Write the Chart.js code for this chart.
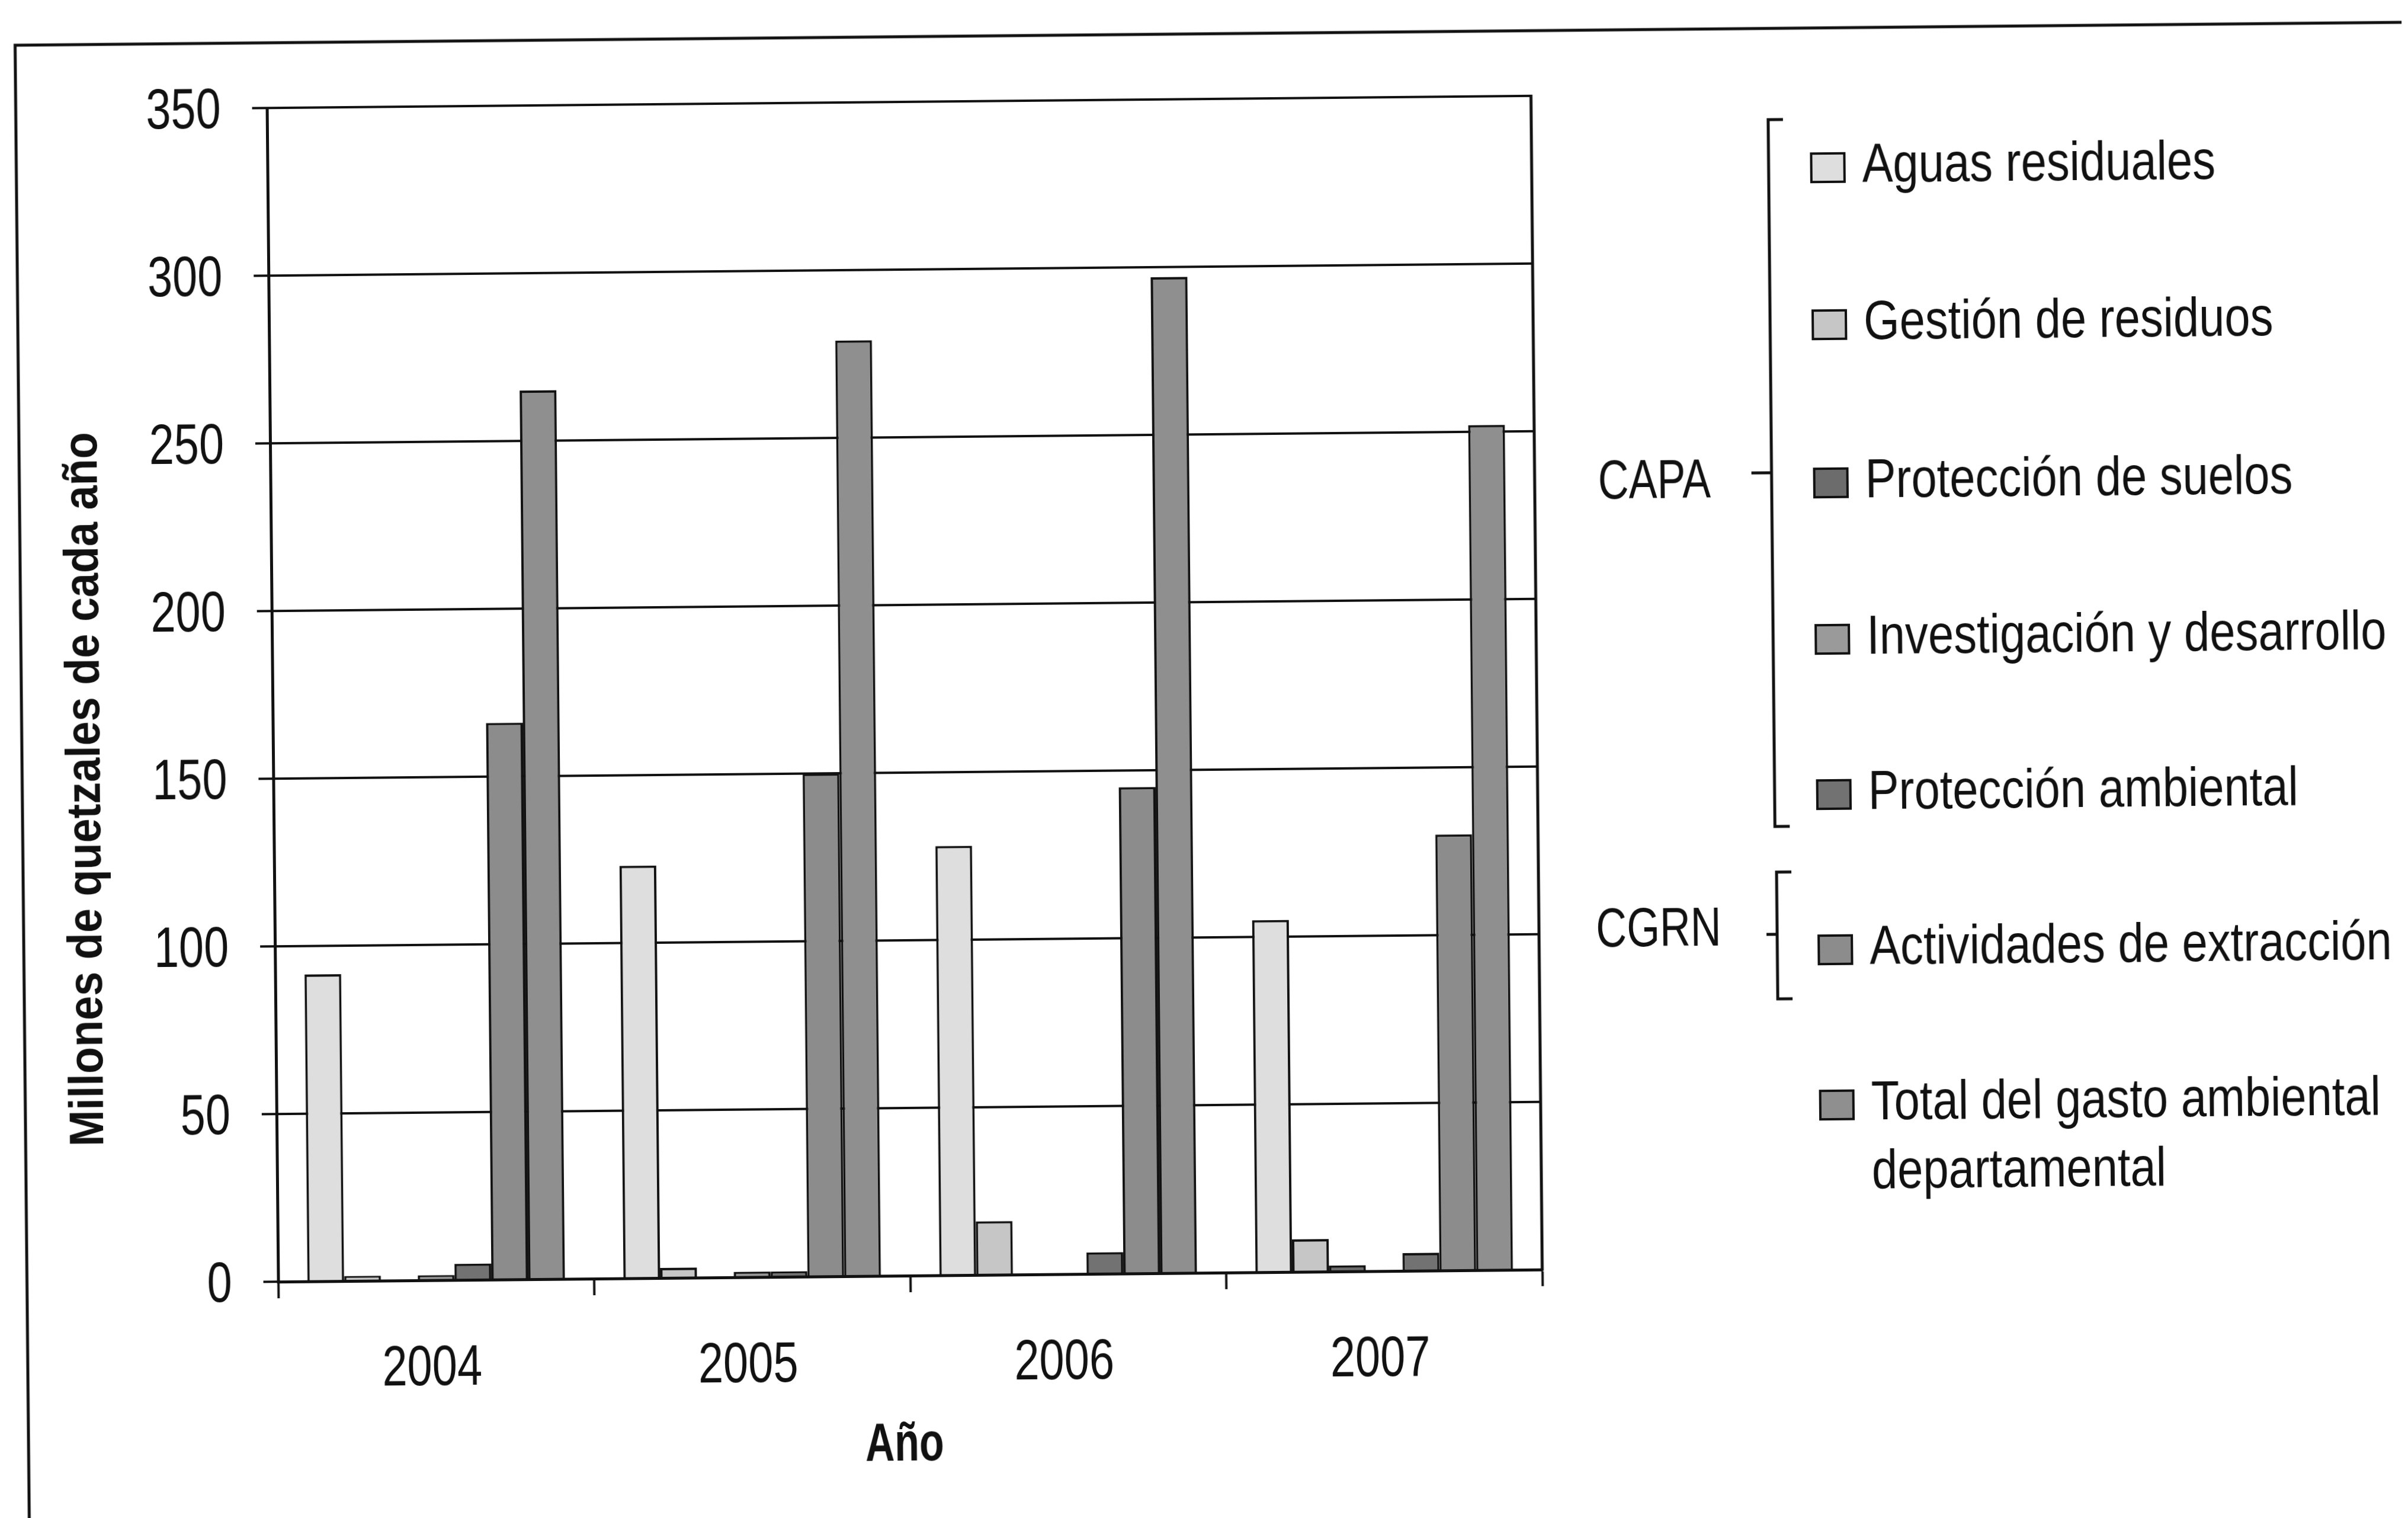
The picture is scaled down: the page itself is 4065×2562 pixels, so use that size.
<!DOCTYPE html>
<html lang="es">
<head>
<meta charset="utf-8">
<title>Gasto ambiental departamental</title>
<script src="https://cdn.jsdelivr.net/npm/chart.js@4.4.1/dist/chart.umd.min.js"></script>
<style>
    html, body { margin: 0; padding: 0; background: #fff; overflow: hidden; }
    #page {
        position: relative;
        width: 4065px;
        height: 2562px;
        background: #fff;
        transform: rotate(-0.55deg);
        transform-origin: 1526px 1162px;
    }
    canvas { display: block; }
</style>
</head>
<body>
<div id="page"><canvas id="gastoChart" width="4065" height="2562"></canvas></div>
<script>
// Datos
const years = ['2004', '2005', '2006', '2007'];
const seriesNames = [
    'Aguas residuales',
    'Gestión de residuos',
    'Protección de suelos',
    'Investigación y desarrollo',
    'Protección ambiental',
    'Actividades de extracción',
    ['Total del gasto ambiental', 'departamental']
];
const aguasResiduales = [91.5, 123, 128, 105];
const gestionResiduos = [1.5, 3, 16, 9.7];
const proteccionSuelos = [0, 0, 0, 1.8];
const investigacion = [1.5, 1.6, 0, 0];
const proteccionAmbiental = [4.8, 1.6, 6.4, 5.3];
const actividadesExtraccion = [166, 150, 145, 130];
const totalGasto = [265, 279, 297, 252];
const yTicks = [0, 50, 100, 150, 200, 250, 300, 350];
const groupNames = ['CAPA', 'CGRN'];
const yTitle = 'Millones de quetzales de cada año';
const xTitle = 'Año';

const seriesValues = [aguasResiduales, gestionResiduos, proteccionSuelos, investigacion,
    proteccionAmbiental, actividadesExtraccion, totalGasto];
const seriesColors = ['#dedede', '#c6c6c6', '#6c6c6c', '#9a9a9a', '#727272', '#8c8c8c', '#8f8f8f'];

// Fuente tipo Helvetica, estrechada a mano (no hay fuente condensada instalada)
const FONT = "'Liberation Sans', Arial, sans-serif";
const INK = '#111';

function drawNarrow(ctx, text, x, y, font, squeeze, align, angle) {
    ctx.save();
    ctx.translate(x, y);
    if (angle) ctx.rotate(angle);
    ctx.scale(squeeze, 1);
    ctx.font = font;
    ctx.fillStyle = INK;
    ctx.textAlign = align || 'left';
    ctx.textBaseline = 'middle';
    ctx.fillText(text, 0, 0);
    ctx.restore();
}

// Etiquetas, leyenda, llaves y marcos
const extrasPlugin = {
    id: 'extras',
    afterDraw(chart) {
        const ctx = chart.ctx;
        const area = chart.chartArea;
        const xScale = chart.scales.x;
        const yScale = chart.scales.y;
        ctx.save();
        ctx.strokeStyle = INK;

        // marco exterior
        ctx.lineWidth = 5;
        ctx.strokeRect(36, 62, 4300, 2800);

        // borde derecho del area del grafico
        ctx.beginPath();
        ctx.moveTo(area.right, area.top - 2);
        ctx.lineTo(area.right, area.bottom + 2);
        ctx.stroke();

        // etiquetas del eje y
        yScale.ticks.forEach(t => {
            drawNarrow(ctx, String(t.value), 382, yScale.getPixelForValue(t.value) + 6,
                '97px ' + FONT, 0.78, 'right');
        });

        // etiquetas del eje x
        years.forEach((year, i) => {
            drawNarrow(ctx, year, xScale.getPixelForTick(i) - 8, 2304, '96px ' + FONT, 0.79, 'center');
        });

        // titulos de ejes
        drawNarrow(ctx, xTitle, 1515, 2440, 'bold 91px ' + FONT, 0.75, 'center');
        drawNarrow(ctx, yTitle, 144, 1319, 'bold 82px ' + FONT, 0.9, 'center', -Math.PI / 2);

        // leyenda
        const rowY = [298, 563, 830, 1094, 1356, 1618, 1880];
        chart.data.datasets.forEach((ds, i) => {
            const y = rowY[i];
            ctx.fillStyle = ds.backgroundColor;
            ctx.fillRect(3066, y - 24, 56, 48);
            ctx.lineWidth = 4;
            ctx.strokeRect(3066, y - 24, 56, 48);
            const lines = Array.isArray(ds.label) ? ds.label : [ds.label];
            lines.forEach((line, k) => {
                drawNarrow(ctx, line, 3152, y + k * 116, '92px ' + FONT, 0.845, 'left');
            });
        });

        // llaves de grupo: CAPA y CGRN
        ctx.lineWidth = 5;
        const braces = [
            { top: 216, bottom: 1409, mid: 812, tick: 34, x: 2994 },
            { top: 1486, bottom: 1700, mid: 1591, tick: 18, x: 2996 }
        ];
        braces.forEach((b, i) => {
            ctx.beginPath();
            ctx.moveTo(b.x + 25, b.top);
            ctx.lineTo(b.x, b.top);
            ctx.lineTo(b.x, b.bottom);
            ctx.lineTo(b.x + 25, b.bottom);
            ctx.moveTo(b.x, b.mid);
            ctx.lineTo(b.x - b.tick, b.mid);
            ctx.stroke();
            drawNarrow(ctx, groupNames[i], 2796, i === 0 ? 828 : 1584, '92px ' + FONT, 0.78, 'center');
        });

        ctx.restore();
    }
};

// Crear grafico
function createGastoChart() {
    const ctx = document.getElementById('gastoChart').getContext('2d');

    new Chart(ctx, {
        type: 'bar',
        data: {
            labels: years,
            datasets: seriesNames.map((name, i) => ({
                label: name,
                data: seriesValues[i],
                backgroundColor: seriesColors[i],
                borderColor: INK,
                borderWidth: 4,
                categoryPercentage: 0.815,
                barPercentage: 1.0
            }))
        },
        options: {
            responsive: false,
            animation: false,
            events: [],
            layout: {
                padding: { top: 172, right: 1471, left: 0, bottom: 0 }
            },
            plugins: {
                legend: { display: false },
                tooltip: { enabled: false }
            },
            scales: {
                x: {
                    grid: {
                        display: true,
                        drawOnChartArea: false,
                        drawTicks: true,
                        tickLength: 28,
                        tickWidth: 4,
                        tickColor: INK,
                        offset: true
                    },
                    border: { display: true, color: INK, width: 5 },
                    ticks: { display: false },
                    afterFit(scale) { scale.height = 409; }
                },
                y: {
                    min: 0,
                    max: 350,
                    afterBuildTicks(scale) {
                        scale.ticks = yTicks.map(v => ({ value: v }));
                    },
                    grid: {
                        color: INK,
                        lineWidth: 4,
                        drawTicks: true,
                        tickLength: 25
                    },
                    border: { display: true, color: INK, width: 5 },
                    ticks: { display: false },
                    afterFit(scale) { scale.width = 460; }
                }
            }
        },
        plugins: [extrasPlugin]
    });
}

document.addEventListener('DOMContentLoaded', () => {
    createGastoChart();
});
</script>
</body>
</html>
